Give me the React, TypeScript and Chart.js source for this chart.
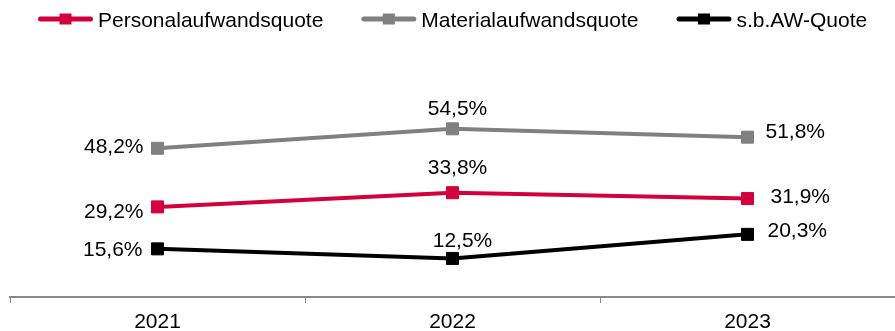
import React, { useEffect, useRef } from "react";
import { Chart, registerables } from "chart.js";

Chart.register(...registerables);

const categories = ["2021", "2022", "2023"];
const seriesNames = ["Personalaufwandsquote", "Materialaufwandsquote", "s.b.AW-Quote"];
const personalValues = [29.2, 33.8, 31.9];
const materialValues = [48.2, 54.5, 51.8];
const sbawValues = [15.6, 12.5, 20.3];
const seriesColors = ["#D2003C", "#808080", "#000000"];

const FONT = "'Liberation Sans', Arial, sans-serif";
const FONT_SIZE = 21;

// label placement per series, per point: [dx, dy, align]
const labelPlacement: [number, number, CanvasTextAlign][][] = [
  [[-14, 4, "right"], [5, -26, "center"], [23, -3, "left"]],
  [[-14, -2.5, "right"], [5, -21, "center"], [18, -7, "left"]],
  [[-15, 0, "right"], [10, -19, "center"], [20, -5, "left"]],
];

const fmt = (v: number) => v.toFixed(1).replace(".", ",") + "%";

const dataLabelPlugin = {
  id: "dataLabels",
  afterDatasetsDraw(chart: any) {
    const ctx = chart.ctx;
    ctx.save();
    ctx.font = `${FONT_SIZE}px ${FONT}`;
    ctx.fillStyle = "#000";
    ctx.textBaseline = "alphabetic";
    chart.data.datasets.forEach((ds: any, di: number) => {
      const meta = chart.getDatasetMeta(di);
      meta.data.forEach((el: any, i: number) => {
        const [dx, dy, align] = labelPlacement[di][i];
        ctx.textAlign = align;
        ctx.fillText(fmt(ds.data[i]), el.x + dx, el.y + dy + 7.5);
      });
    });
    ctx.restore();
  },
};

const legendPlugin = {
  id: "customLegend",
  afterDraw(chart: any) {
    const ctx = chart.ctx;
    ctx.save();
    ctx.font = `${FONT_SIZE}px ${FONT}`;
    ctx.textAlign = "left";
    ctx.textBaseline = "alphabetic";
    let x = 38;
    const y = 19;
    chart.data.datasets.forEach((ds: any) => {
      const color = ds.borderColor;
      ctx.strokeStyle = color;
      ctx.lineWidth = 5;
      ctx.lineCap = "round";
      ctx.beginPath();
      ctx.moveTo(x + 2.5, y);
      ctx.lineTo(x + 52.5, y);
      ctx.stroke();
      ctx.fillStyle = color;
      ctx.fillRect(x + 27.5 - 6, y - 5.5, 12, 11);
      ctx.fillStyle = "#000";
      ctx.fillText(ds.label, x + 60, y + 8);
      x += 60 + ctx.measureText(ds.label).width + 38;
    });
    ctx.restore();
  },
};

export default function App() {
  const ref = useRef<HTMLCanvasElement>(null);
  useEffect(() => {
    if (!ref.current) return;
    const values = [personalValues, materialValues, sbawValues];
    const chart = new Chart(ref.current, {
      type: "line",
      data: {
        labels: categories,
        datasets: seriesNames.map((name, i) => ({
          label: name,
          data: values[i],
          borderColor: seriesColors[i],
          backgroundColor: seriesColors[i],
          borderWidth: 4,
          pointStyle: "rect",
          pointRadius: 8.5,
          pointBorderWidth: 1,
          pointBackgroundColor: seriesColors[i],
          pointBorderColor: seriesColors[i],
          tension: 0,
          clip: false as any,
        })),
      },
      options: {
        responsive: false,
        animation: false,
        layout: { autoPadding: false, padding: { top: 81, left: 10, right: 0, bottom: 0 } },
        plugins: {
          legend: { display: false },
          tooltip: { enabled: false },
        },
        scales: {
          x: {
            offset: true,
            grid: {
              offset: true,
              drawOnChartArea: false,
              drawTicks: true,
              tickLength: 6,
              color: "#888888",
              lineWidth: 1,
            },
            border: { display: true, color: "#888888", width: 2 },
            ticks: {
              color: "#000",
              padding: 7,
              font: { family: FONT, size: FONT_SIZE, lineHeight: 1.2 },
            },
            afterFit: (scale: any) => {
              scale.paddingLeft = 0;
              scale.paddingRight = 0;
              scale.height = 34;
            },
          },
          y: {
            display: false,
            min: 0,
            max: 70,
          },
        },
      },
      plugins: [dataLabelPlugin, legendPlugin],
    });
    return () => chart.destroy();
  }, []);
  return (
    <div style={{ position: "fixed", left: 0, top: 0, width: 895, height: 331, background: "#fff" }}>
      <canvas ref={ref} width={895} height={331} />
    </div>
  );
}
